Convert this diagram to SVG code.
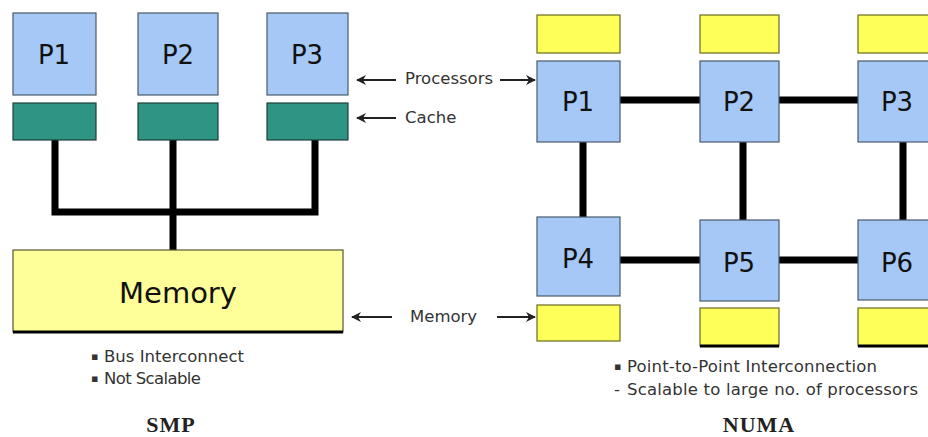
<svg xmlns="http://www.w3.org/2000/svg" width="928" height="437" viewBox="0 0 928 437">
<style>
.proc{fill:#a6c8f6;stroke:#4a5a6a;stroke-width:1.2}
.cache{fill:#2e9484;stroke:#1f3f3a;stroke-width:1.2}
.mem{fill:#ffff5a;stroke:#6a6a20;stroke-width:1.2}
.smem{fill:#ffff99;stroke:#555533;stroke-width:1.2}
.pl{font-family:"DejaVu Sans",Verdana,sans-serif;font-size:26px;fill:#111;text-anchor:middle}
.lbl{font-family:"DejaVu Sans",Verdana,sans-serif;font-size:16.5px;fill:#333}
.bul{font-family:"DejaVu Sans",Verdana,sans-serif;font-size:11px;fill:#333}
.ttl{font-family:"Liberation Serif","Times New Roman",serif;font-weight:bold;font-size:22px;fill:#222;text-anchor:middle;letter-spacing:1px}
.wire{stroke:#000;stroke-width:7;fill:none}
.arr{stroke:#222;stroke-width:1.8;fill:none;marker-end:url(#ah)}
.shadow{stroke:#000;stroke-width:3}
</style>
<defs>
<marker id="ah" viewBox="0 0 10 10" refX="9" refY="5" markerWidth="10" markerHeight="10" orient="auto" markerUnits="userSpaceOnUse">
<path d="M0,0 L10,5 L0,10 L3,5 Z" fill="#222"/>
</marker>
</defs>
<g id="connectors">
<path class="wire" d="M55,140 V212 M173,140 V250 M315,140 V212 M51.5,212 H318.5"/>
<path class="wire" d="M620,100 H700 M779,100 H858 M620,260 H700 M779,260 H858 M583,142 V217 M743,142 V220 M903,142 V220"/>
<line class="arr" x1="396" y1="80" x2="357" y2="80"/>
<line class="arr" x1="500" y1="80" x2="535" y2="80"/>
<line class="arr" x1="396" y1="118" x2="357" y2="118"/>
<line class="arr" x1="392" y1="317" x2="352" y2="317"/>
<line class="arr" x1="497" y1="317" x2="535" y2="317"/>
</g>
<g id="smp-p1"><rect class="proc" x="13" y="13" width="83" height="82"/><text class="pl" x="54" y="64">P1</text></g>
<g id="smp-p2"><rect class="proc" x="138" y="13" width="80" height="82"/><text class="pl" x="178" y="64">P2</text></g>
<g id="smp-p3"><rect class="proc" x="267" y="13" width="81" height="82"/><text class="pl" x="307" y="64">P3</text></g>
<g id="smp-c1"><rect class="cache" x="13" y="103" width="83" height="37"/></g>
<g id="smp-c2"><rect class="cache" x="138" y="103" width="80" height="37"/></g>
<g id="smp-c3"><rect class="cache" x="267" y="103" width="81" height="37"/></g>
<g id="smp-memory"><rect class="smem" x="13" y="250" width="330" height="82"/><line class="shadow" x1="13" y1="332" x2="343" y2="332"/><text x="178" y="303" font-family="'DejaVu Sans',Verdana,sans-serif" font-size="29" fill="#111" text-anchor="middle">Memory</text></g>
<g id="labels">
<text class="lbl" x="405" y="84">Processors</text>
<text class="lbl" x="405" y="123">Cache</text>
<text class="lbl" x="410" y="322">Memory</text>
<text class="bul" x="91" y="360">▪</text>
<text class="lbl" x="104" y="362" textLength="140">Bus Interconnect</text>
<text class="bul" x="91" y="382">▪</text>
<text class="lbl" x="104" y="384" textLength="97">Not Scalable</text>
<text class="bul" x="614" y="370">▪</text>
<text class="lbl" x="627" y="372" textLength="250">Point-to-Point Interconnection</text>
<text class="lbl" x="614" y="395">-</text>
<text class="lbl" x="627" y="395" textLength="291">Scalable to large no. of processors</text>
<text class="ttl" x="171" y="432">SMP</text>
<text class="ttl" x="759" y="432">NUMA</text>
</g>
<g id="numa-m1"><rect class="mem" x="537" y="15" width="83" height="38"/></g>
<g id="numa-m2"><rect class="mem" x="700" y="15" width="79" height="38"/></g>
<g id="numa-m3"><rect class="mem" x="858" y="15" width="80" height="38"/></g>
<g id="numa-p1"><rect class="proc" x="537" y="61" width="83" height="81"/><text class="pl" x="578" y="111">P1</text></g>
<g id="numa-p2"><rect class="proc" x="700" y="61" width="79" height="81"/><text class="pl" x="739" y="111">P2</text></g>
<g id="numa-p3"><rect class="proc" x="858" y="61" width="80" height="81"/><text class="pl" x="897" y="111">P3</text></g>
<g id="numa-p4"><rect class="proc" x="537" y="217" width="83" height="79"/><text class="pl" x="578" y="268">P4</text></g>
<g id="numa-p5"><rect class="proc" x="700" y="220" width="79" height="81"/><text class="pl" x="739" y="272">P5</text></g>
<g id="numa-p6"><rect class="proc" x="858" y="220" width="80" height="80"/><text class="pl" x="897" y="272">P6</text></g>
<g id="numa-m4"><rect class="mem" x="537" y="305" width="83" height="36"/></g>
<g id="numa-m5"><rect class="mem" x="700" y="308" width="79" height="38"/><line class="shadow" x1="700" y1="346" x2="779" y2="346"/></g>
<g id="numa-m6"><rect class="mem" x="858" y="308" width="80" height="38"/><line class="shadow" x1="858" y1="346" x2="938" y2="346"/></g>
</svg>
